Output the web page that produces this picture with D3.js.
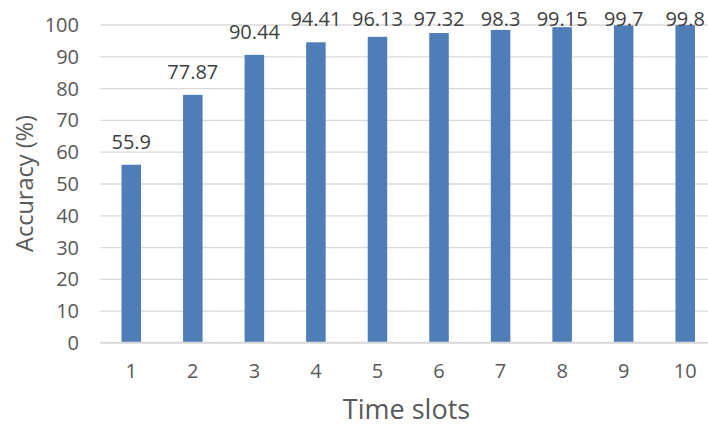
<!DOCTYPE html>
<html>
<head>
<meta charset="utf-8">
<script src="https://cdn.jsdelivr.net/npm/d3@7"></script>
<style>
  html, body { margin: 0; padding: 0; background: #fff; overflow: hidden; }
  svg { display: block; font-family: "Open Sans", "Noto Sans", sans-serif; }
</style>
</head>
<body>
<svg id="chart" width="708" height="427"></svg>
<script>
const categories = ["1", "2", "3", "4", "5", "6", "7", "8", "9", "10"];
const accuracy = [55.9, 77.87, 90.44, 94.41, 96.13, 97.32, 98.3, 99.15, 99.7, 99.8];
const valueLabels = ["55.9", "77.87", "90.44", "94.41", "96.13", "97.32", "98.3", "99.15", "99.7", "99.8"];
const yTicks = [0, 10, 20, 30, 40, 50, 60, 70, 80, 90, 100];

(function () {
const svg = d3.select("#chart");
const mLeft = 100.5, mRight = 716, mTop = 24.5, mBottom = 342.5;
const fs = "20px";

const x = d3.scaleBand().domain(categories).range([mLeft, mRight]).paddingInner(0.683).paddingOuter(0.3415);
const y = d3.scaleLinear().domain([0, 100]).range([mBottom, mTop]);

// gridlines
svg.append("g")
  .attr("transform", `translate(${mLeft},0)`)
  .call(d3.axisLeft(y).tickValues(yTicks).tickSize(-(mRight - mLeft)).tickFormat(""))
  .call(g => g.select(".domain").remove())
  .call(g => g.selectAll("line").attr("stroke", "#d9d9d9").attr("stroke-width", 1.3));

// y tick labels
svg.append("g")
  .attr("transform", `translate(${mLeft},0)`)
  .call(d3.axisLeft(y).tickValues(yTicks).tickSize(0).tickPadding(21.5))
  .call(g => g.select(".domain").remove())
  .call(g => g.selectAll("text").attr("fill", "#595959").style("font-size", fs).attr("font-family", "Open Sans").attr("dy", "0.35em"));

// bars
svg.append("g").selectAll("rect").data(accuracy).join("rect")
  .attr("x", (d, i) => x(categories[i]))
  .attr("width", x.bandwidth())
  .attr("y", d => y(d))
  .attr("height", d => y(0) - y(d))
  .attr("fill", "#4e7db8");

// x axis baseline
svg.append("line")
  .attr("x1", mLeft).attr("x2", mRight)
  .attr("y1", y(0)).attr("y2", y(0))
  .attr("stroke", "#d9d9d9").attr("stroke-width", 1.3);

// x tick labels
svg.append("g")
  .attr("transform", `translate(0,${mBottom})`)
  .call(d3.axisBottom(x).tickSize(0))
  .call(g => g.select(".domain").remove())
  .call(g => g.selectAll("text").attr("fill", "#595959").style("font-size", fs).attr("font-family", "Open Sans").attr("y", 35.5).attr("dy", 0));

// value labels (kept inside the plot area like the original)
svg.append("g").selectAll("text").data(accuracy).join("text")
  .attr("x", (d, i) => x(categories[i]) + x.bandwidth() / 2)
  .attr("y", d => Math.max(y(d) - 16, 25.5))
  .attr("text-anchor", "middle")
  .attr("fill", "#404040")
  .style("font-size", fs)
  .text((d, i) => valueLabels[i]);

// axis titles
svg.append("text")
  .attr("transform", `translate(33,183.5) rotate(-90)`)
  .attr("text-anchor", "middle")
  .attr("fill", "#595959")
  .style("font-size", "23.5px")
  .text("Accuracy (%)");

svg.append("text")
  .attr("x", 406.5).attr("y", 419)
  .attr("text-anchor", "middle")
  .attr("fill", "#595959")
  .style("font-size", "27px")
  .text("Time slots");
})();
</script>
</body>
</html>
